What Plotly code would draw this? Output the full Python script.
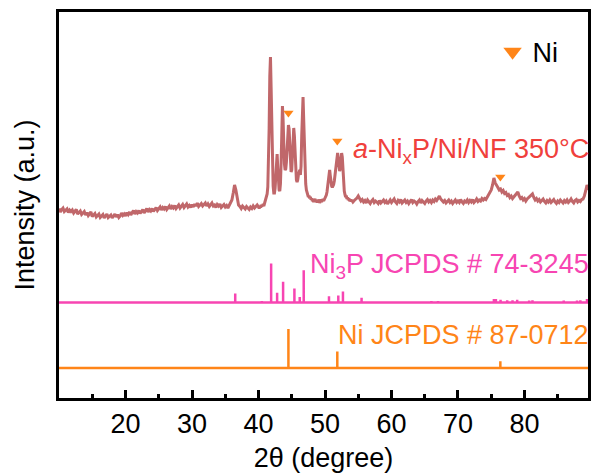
import numpy as np
import plotly.graph_objects as go

# ---- measured pattern: a-NixP/Ni/NF annealed at 350 °C -------------------
# 2θ grid: 0.2° steps, 0.1° steps across the main reflection cluster
two_theta = np.concatenate([
    np.arange(50, 200) / 5.0,     # 10.0 – 39.8
    np.arange(400, 540) / 10.0,   # 40.0 – 53.9
    np.arange(270, 449) / 5.0,    # 54.0 – 89.6
])

counts = [
    # 10.0 – 19.8
    39.5, 36.0, 38.5, 40.0, 36.5, 37.5, 39.0, 35.5, 38.0, 36.5,
    38.0, 35.0, 36.5, 38.5, 34.0, 36.0, 37.0, 33.5, 35.5, 36.5,
    33.0, 35.5, 32.5, 34.0, 36.0, 31.5, 33.5, 34.5, 31.0, 33.0,
    34.0, 30.5, 32.0, 33.5, 30.0, 32.5, 34.0, 30.5, 31.5, 33.0,
    30.0, 32.5, 34.0, 31.0, 33.5, 30.5, 32.0, 35.0, 32.5, 34.0,
    # 20.0 – 29.8
    32.0, 35.5, 33.5, 36.0, 33.0, 35.5, 37.5, 34.0, 36.5, 35.0,
    37.5, 34.5, 36.5, 38.5, 35.0, 37.0, 39.5, 36.0, 38.5, 37.0,
    39.5, 36.5, 38.0, 40.5, 37.5, 39.0, 41.0, 38.0, 40.5, 39.0,
    41.5, 38.5, 40.0, 42.0, 39.0, 41.5, 40.0, 42.5, 39.5, 41.0,
    43.0, 40.0, 41.5, 43.5, 40.5, 42.0, 44.0, 41.0, 42.5, 40.5,
    # 30.0 – 39.8
    43.5, 41.0, 44.0, 42.0, 45.0, 41.5, 43.0, 44.5, 42.0, 43.5,
    45.0, 42.0, 44.0, 41.5, 43.5, 45.0, 42.0, 43.0, 40.5, 43.5,
    42.0, 44.0, 40.5, 42.5, 43.5, 41.0, 42.5, 40.0, 43.0, 44.5,
    48.0, 55.0, 63.0, 58.0, 48.0, 43.0, 41.5, 39.5, 42.0, 40.5,
    39.0, 41.5, 40.0, 38.5, 41.0, 39.5, 42.0, 40.0, 41.5, 43.0,
    # 40.0 – 44.9
    41.0, 39.5, 42.0, 40.5, 43.0, 41.5, 42.5, 44.0, 42.0, 44.5,
    45.5, 47.0, 50.0, 54.0, 61.0, 80.0, 120.0, 172.0, 191.0, 160.0,
    110.0, 78.0, 62.0, 55.0, 55.0, 60.0, 72.0, 88.0, 94.0, 80.0,
    64.0, 58.0, 57.0, 64.0, 85.0, 122.0, 142.0, 128.0, 100.0, 84.0,
    78.0, 79.0, 86.0, 100.0, 115.0, 123.0, 119.0, 100.0, 84.0, 76.0,
    # 45.0 – 49.9
    78.0, 92.0, 112.0, 120.0, 112.0, 92.0, 76.0, 68.0, 66.0, 68.0,
    73.0, 77.0, 78.0, 73.0, 82.0, 112.0, 143.0, 151.0, 128.0, 95.0,
    74.0, 64.0, 58.0, 55.0, 53.5, 51.0, 52.5, 49.5, 51.0, 48.5,
    49.5, 47.0, 48.5, 46.0, 48.0, 49.0, 46.5, 47.5, 45.5, 48.0,
    46.5, 48.5, 45.0, 47.0, 48.5, 46.0, 47.5, 49.0, 47.0, 48.5,
    # 50.0 – 53.9
    49.5, 51.0, 53.0, 56.0, 61.0, 68.0, 76.0, 78.0, 72.0, 65.0,
    62.0, 60.5, 61.5, 63.5, 67.0, 72.0, 78.0, 85.0, 92.0, 95.0,
    90.0, 81.0, 77.0, 79.0, 88.0, 95.0, 91.0, 78.0, 65.0, 57.0,
    53.5, 51.0, 52.5, 49.0, 50.5, 48.0, 49.5, 47.0, 48.5, 46.5,
    # 54.0 – 73.8
    48.0, 46.0, 47.5, 48.5, 50.0, 52.0, 49.5, 47.0, 48.5, 46.0,
    47.5, 45.0, 48.0, 46.5, 44.5, 47.0, 48.5, 45.5, 47.0, 46.0,
    44.5, 47.5, 45.0, 46.5, 48.0, 45.5, 47.0, 44.0, 46.5, 48.0,
    45.5, 47.0, 49.0, 46.0, 44.5, 47.5, 46.0, 48.5, 45.0, 46.5,
    48.0, 45.5, 47.0, 44.5, 46.5, 48.5, 45.5, 47.0, 46.0, 44.0,
    46.5, 48.0, 45.0, 47.5, 46.0, 44.5, 47.0, 48.5, 46.0, 47.5,
    45.5, 48.0, 46.5, 49.0, 47.5, 50.0, 52.0, 49.0, 47.5, 46.0,
    47.5, 45.0, 46.5, 48.0, 45.5, 47.0, 44.5, 46.5, 48.0, 45.5,
    47.0, 45.5, 48.5, 46.0, 44.5, 47.0, 46.0, 48.0, 45.5, 47.5,
    46.0, 48.5, 45.5, 47.0, 49.0, 46.5, 48.0, 47.0, 49.5, 48.0,
    # 74.0 – 89.6
    49.5, 48.5, 51.0, 53.0, 55.5, 58.0, 63.0, 70.0, 65.0, 62.0,
    60.5, 58.0, 59.0, 56.0, 57.5, 54.5, 55.5, 52.5, 53.5, 50.5,
    52.0, 49.5, 51.0, 52.5, 54.5, 56.0, 52.0, 49.5, 50.5, 48.0,
    49.5, 47.0, 49.0, 50.5, 51.5, 53.0, 54.0, 50.5, 48.0, 49.5,
    47.0, 48.5, 46.0, 47.5, 49.0, 46.5, 45.0, 47.5, 46.0, 48.0,
    45.5, 47.0, 48.5, 46.0, 44.5, 47.0, 45.5, 48.0, 46.5, 45.0,
    47.5, 46.0, 48.0, 45.5, 47.0, 49.0, 46.5, 45.0, 47.5, 48.5,
    46.0, 47.5, 46.5, 48.5, 49.0, 52.0, 57.0, 63.0, 58.0,
]
assert len(counts) == len(two_theta)

# ---- reference stick patterns (relative intensity, %) ---------------------
ni3p_pos = [30.3, 31.5, 36.5, 40.5, 41.0, 41.9, 42.8, 43.7, 45.4, 46.2, 46.8,
            50.6, 52.0, 52.7, 55.5, 59.0, 59.7, 60.5, 66.0, 67.0, 68.7, 70.7,
            72.4, 73.9, 75.4, 75.7, 76.4, 77.4, 78.2, 78.9, 80.7, 81.2, 85.9,
            87.9, 88.4, 89.4]
ni3p_int = [3, 3, 23, 4, 3, 100, 25, 53, 36, 14, 83,
            16, 18, 28, 12, 3, 3, 3, 4, 4, 3, 3,
            3, 3, 9, 9, 7, 6, 6, 7, 5, 6, 5,
            5, 6, 9]

ni_pos = [44.5, 51.85, 76.37]
ni_int = [100, 42, 17]

# ---- vertical stacking ----------------------------------------------------
SAMPLE_OFFSET = 150.0
NI3P_BASE = 95.5
NI_BASE = 30.0
STICK_SCALE = 0.39          # plot units per % relative intensity
X_MIN, X_MAX = 10.0, 89.55

C_SAMPLE = "#C0676A"
C_NI3P = "#F745B2"
C_NI = "#FF8518"
C_LABEL = "#F0403C"
FONT = "Liberation Sans, Arial, sans-serif"


def stick_path(pos, inten, base):
    xs, ys = [X_MIN], [base]
    for p, h in sorted(zip(pos, inten)):
        xs += [p, p, p]
        ys += [base, base + h * STICK_SCALE, base]
    xs.append(X_MAX)
    ys.append(base)
    return xs, ys


fig = go.Figure()

fig.add_trace(go.Scatter(
    x=two_theta, y=np.array(counts) + SAMPLE_OFFSET, mode="lines",
    line=dict(color=C_SAMPLE, width=3), showlegend=False, hoverinfo="skip"))

sx, sy = stick_path(ni3p_pos, ni3p_int, NI3P_BASE)
fig.add_trace(go.Scatter(x=sx, y=sy, mode="lines",
                         line=dict(color=C_NI3P, width=2.5),
                         showlegend=False, hoverinfo="skip"))

sx, sy = stick_path(ni_pos, ni_int, NI_BASE)
fig.add_trace(go.Scatter(x=sx, y=sy, mode="lines",
                         line=dict(color=C_NI, width=2.5),
                         showlegend=False, hoverinfo="skip"))

# Ni reflections marked above the measured pattern
tt = np.asarray(two_theta)
cc = np.asarray(counts)
mark_y = [cc[np.abs(tt - p) <= 0.3].max() + SAMPLE_OFFSET + 12 for p in ni_pos]
fig.add_trace(go.Scatter(
    x=ni_pos, y=mark_y, mode="markers",
    marker=dict(symbol="triangle-down", size=9, color=C_NI, line=dict(width=0)),
    showlegend=False, hoverinfo="skip"))

# legend entry for the Ni marker
fig.add_trace(go.Scatter(
    x=[None], y=[None], mode="markers", name="Ni",
    marker=dict(symbol="triangle-down", size=20, color=C_NI, line=dict(width=0))))

label_font = dict(family=FONT, size=27)
fig.add_annotation(text="<i>a</i>-Ni<sub>x</sub>P/Ni/NF 350°C",
                   xref="paper", yref="y", x=1, y=247, xanchor="right",
                   yanchor="middle", xshift=3, showarrow=False,
                   font=dict(label_font, color=C_LABEL))
fig.add_annotation(text="Ni<sub>3</sub>P JCPDS # 74-3245",
                   xref="paper", yref="y", x=1, y=132, xanchor="right",
                   yanchor="middle", xshift=3, showarrow=False,
                   font=dict(label_font, color=C_NI3P))
fig.add_annotation(text="Ni JCPDS # 87-0712",
                   xref="paper", yref="y", x=1, y=63, xanchor="right",
                   yanchor="middle", xshift=3, showarrow=False,
                   font=dict(label_font, color=C_NI))

fig.update_layout(
    width=594, height=475,
    margin=dict(l=59, r=3, t=12, b=77),
    paper_bgcolor="white", plot_bgcolor="white",
    font=dict(family=FONT, size=27, color="black"),
    legend=dict(x=0.8196, y=0.896, xanchor="left", yanchor="middle",
                bgcolor="rgba(0,0,0,0)", font=dict(size=27)),
    showlegend=True,
)

fig.update_xaxes(
    range=[X_MIN, X_MAX], tickvals=[20, 30, 40, 50, 60, 70, 80],
    ticks="inside", ticklen=8, tickwidth=2.5, tickcolor="black",
    minor=dict(tickvals=[15, 25, 35, 45, 55, 65, 75, 85], ticks="inside",
               ticklen=4, tickwidth=2.5, tickcolor="black"),
    showline=True, linewidth=3, linecolor="black", mirror=True,
    showgrid=False, zeroline=False,
    tickfont=dict(size=27),
    title=dict(text="2θ (degree)", font=dict(size=27), standoff=10),
)
fig.update_yaxes(
    range=[0, 386], showticklabels=False, ticks="",
    showline=True, linewidth=3, linecolor="black", mirror=True,
    showgrid=False, zeroline=False,
    title=dict(text="Intensity (a.u.)", font=dict(size=27), standoff=14),
)

fig.write_html("out.html")
